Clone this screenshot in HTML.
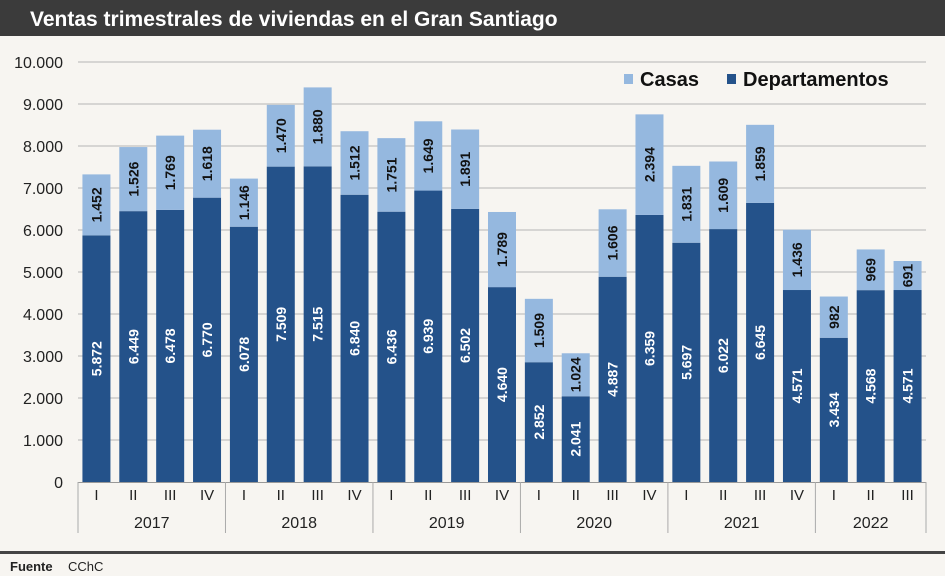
<!DOCTYPE html>
<html><head><meta charset="utf-8"><style>
html,body{margin:0;padding:0;background:#f7f5f1;}
body{width:945px;height:576px;overflow:hidden;font-family:"Liberation Sans",sans-serif;}
svg{display:block;}
</style></head><body>
<svg id="chart" width="945" height="576" xmlns="http://www.w3.org/2000/svg">
<rect x="0" y="0" width="945" height="576" fill="#f7f5f1"/>
<rect x="0" y="0" width="945" height="36" fill="#3b3b3b"/>
<text x="30" y="26" fill="#fff" font-size="21" font-weight="bold">Ventas trimestrales de viviendas en el Gran Santiago</text>
<g id="grid"></g><g id="bars"></g><g id="xaxis"></g>
<g>
<rect x="624" y="74" width="9" height="10" fill="#95b8df"/>
<text x="640" y="86" font-size="20" font-weight="bold" fill="#111">Casas</text>
<rect x="727" y="74" width="9" height="10" fill="#24528a"/>
<text x="743" y="86" font-size="20" font-weight="bold" fill="#111">Departamentos</text>
</g>
<rect x="0" y="551" width="945" height="3" fill="#444"/>
<text x="10" y="571" font-size="13" font-weight="bold" fill="#222">Fuente</text>
<text x="68" y="571" font-size="13" fill="#222">CChC</text>
</svg>
<script>
const quarters=["I","II","III","IV","I","II","III","IV","I","II","III","IV","I","II","III","IV","I","II","III","IV","I","II","III"];
const years=["2017","2018","2019","2020","2021","2022"];
const yearCounts=[4,4,4,4,4,3];
const departamentos=[5872,6449,6478,6770,6078,7509,7515,6840,6436,6939,6502,4640,2852,2041,4887,6359,5697,6022,6645,4571,3434,4568,4571];
const casas=[1452,1526,1769,1618,1146,1470,1880,1512,1751,1649,1891,1789,1509,1024,1606,2394,1831,1609,1859,1436,982,969,691];
const yTicks=[0,1000,2000,3000,4000,5000,6000,7000,8000,9000,10000];
const NS="http://www.w3.org/2000/svg";
const plotL=78,plotR=926,plotB=482,plotT=62,yMax=10000;
const band=(plotR-plotL)/quarters.length,bw=28;
const yS=v=>plotB-(v/yMax)*(plotB-plotT);
const xc=i=>plotL+band*(i+0.5);
const fmt=v=>{const s=String(v);return s.length>3?s.slice(0,s.length-3)+"."+s.slice(-3):s;};
function mk(tag,attrs,parent){const e=document.createElementNS(NS,tag);for(const k in attrs)e.setAttribute(k,attrs[k]);parent.appendChild(e);return e;}
const grid=document.getElementById("grid"),bars=document.getElementById("bars"),xa=document.getElementById("xaxis");
yTicks.forEach(t=>{
 if(t>0){const l=mk("line",{x1:plotL,x2:plotR,y1:yS(t),y2:yS(t),stroke:"#b5b5b5","stroke-width":1},grid);
 
 }
 const tx=mk("text",{x:63,y:yS(t)+6,"text-anchor":"end","font-size":16,fill:"#222"},grid);
 tx.textContent=fmt(t);
 
 
});
quarters.forEach((q,i)=>{
 const cx=xc(i),d=departamentos[i],c=casas[i];
 const r1=mk("rect",{x:cx-bw/2,y:yS(d),width:bw,height:plotB-yS(d),fill:"#24528a"},bars);
 
 
 const r2=mk("rect",{x:cx-bw/2,y:yS(d+c),width:bw,height:yS(d)-yS(d+c),fill:"#95b8df"},bars);
 
 
 const my=(yS(0)+yS(d))/2;
 const t1=mk("text",{x:cx+5,y:my,"text-anchor":"middle","font-size":14,"font-weight":"bold",fill:"#fff",transform:`rotate(-90 ${cx+5} ${my})`},bars);
 t1.textContent=fmt(d);
 
 
 const cy=(yS(d)+yS(d+c))/2;
 const t2=mk("text",{x:cx+5,y:cy,"text-anchor":"middle","font-size":14,"font-weight":"bold",fill:"#111",transform:`rotate(-90 ${cx+5} ${cy})`},bars);
 t2.textContent=fmt(c);
 
 
 const tq=mk("text",{x:cx,y:500,"text-anchor":"middle","font-size":15,fill:"#222"},xa);
 tq.textContent=q;
 
 
});
const ax=mk("line",{x1:plotL,x2:plotR,y1:plotB+0.5,y2:plotB+0.5,stroke:"#999"},xa);


let start=0;
const sep=(xx)=>{const l=mk("line",{x1:xx,x2:xx,y1:plotB,y2:533,stroke:"#aaa"},xa);
 
 };
sep(plotL);
years.forEach((yr,k)=>{
 const n=yearCounts[k],x0=plotL+band*start,x1=plotL+band*(start+n);
 sep(x1);
 const t=mk("text",{x:(x0+x1)/2,y:528,"text-anchor":"middle","font-size":16,fill:"#222"},xa);
 t.textContent=yr;
 
 
 start+=n;
});
</script>
</body></html>
